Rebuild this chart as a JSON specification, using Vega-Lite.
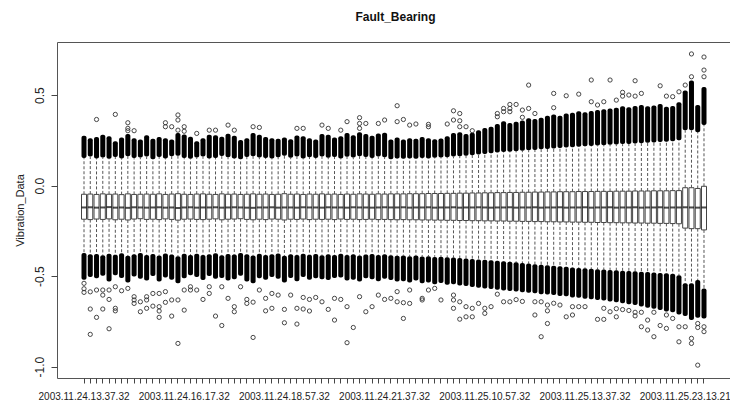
{
"$schema": "https://vega.github.io/schema/vega-lite/v6.json",
"width": 673, "height": 336,
"autosize": {"type": "none"},
"padding": {"left": 57, "top": 42, "right": 0, "bottom": 27},
"background": "white",
"config": {"view": {"stroke": "#555", "strokeWidth": 1}, "font": "Liberation Sans"},
"title": {"text": "Fault_Bearing", "fontSize": 12, "fontWeight": "bold", "font": "Liberation Sans", "color": "#111", "anchor": "middle", "baseline": "alphabetic", "offset": 9, "dx": 2},
"datasets": {
"boxes": [
{"i":1,"t":"2003.11.24.13.37.32","lw":-0.372,"q1":-0.186,"md":-0.121,"q3":-0.048,"uw":0.152,"dt":0.275,"db":-0.520},
{"i":2,"t":"2003.11.24.13.47.32","lw":-0.380,"q1":-0.188,"md":-0.120,"q3":-0.047,"uw":0.160,"dt":0.262,"db":-0.505},
{"i":3,"t":"2003.11.24.13.57.32","lw":-0.378,"q1":-0.185,"md":-0.122,"q3":-0.049,"uw":0.150,"dt":0.268,"db":-0.512},
{"i":4,"t":"2003.11.24.14.07.32","lw":-0.385,"q1":-0.187,"md":-0.121,"q3":-0.046,"uw":0.155,"dt":0.280,"db":-0.498},
{"i":5,"t":"2003.11.24.14.17.32","lw":-0.376,"q1":-0.184,"md":-0.119,"q3":-0.048,"uw":0.148,"dt":0.272,"db":-0.530},
{"i":6,"t":"2003.11.24.14.27.32","lw":-0.382,"q1":-0.189,"md":-0.122,"q3":-0.047,"uw":0.158,"dt":0.245,"db":-0.495},
{"i":7,"t":"2003.11.24.14.37.32","lw":-0.374,"q1":-0.186,"md":-0.121,"q3":-0.050,"uw":0.150,"dt":0.265,"db":-0.510},
{"i":8,"t":"2003.11.24.14.47.32","lw":-0.388,"q1":-0.190,"md":-0.123,"q3":-0.046,"uw":0.162,"dt":0.285,"db":-0.535},
{"i":9,"t":"2003.11.24.14.57.32","lw":-0.380,"q1":-0.185,"md":-0.120,"q3":-0.049,"uw":0.152,"dt":0.262,"db":-0.502},
{"i":10,"t":"2003.11.24.15.07.32","lw":-0.372,"q1":-0.183,"md":-0.121,"q3":-0.048,"uw":0.155,"dt":0.255,"db":-0.515},
{"i":11,"t":"2003.11.24.15.17.32","lw":-0.383,"q1":-0.187,"md":-0.122,"q3":-0.047,"uw":0.160,"dt":0.278,"db":-0.525},
{"i":12,"t":"2003.11.24.15.27.32","lw":-0.378,"q1":-0.186,"md":-0.121,"q3":-0.048,"uw":0.146,"dt":0.258,"db":-0.500},
{"i":13,"t":"2003.11.24.15.37.32","lw":-0.386,"q1":-0.188,"md":-0.120,"q3":-0.046,"uw":0.158,"dt":0.268,"db":-0.530},
{"i":14,"t":"2003.11.24.15.47.32","lw":-0.375,"q1":-0.184,"md":-0.122,"q3":-0.049,"uw":0.150,"dt":0.262,"db":-0.508},
{"i":15,"t":"2003.11.24.15.57.32","lw":-0.381,"q1":-0.187,"md":-0.121,"q3":-0.047,"uw":0.162,"dt":0.255,"db":-0.520},
{"i":16,"t":"2003.11.24.16.07.32","lw":-0.390,"q1":-0.191,"md":-0.124,"q3":-0.045,"uw":0.165,"dt":0.290,"db":-0.540},
{"i":17,"t":"2003.11.24.16.17.32","lw":-0.377,"q1":-0.186,"md":-0.121,"q3":-0.048,"uw":0.152,"dt":0.282,"db":-0.512},
{"i":18,"t":"2003.11.24.16.27.32","lw":-0.383,"q1":-0.185,"md":-0.120,"q3":-0.049,"uw":0.148,"dt":0.270,"db":-0.495},
{"i":19,"t":"2003.11.24.16.37.32","lw":-0.376,"q1":-0.187,"md":-0.122,"q3":-0.047,"uw":0.155,"dt":0.245,"db":-0.505},
{"i":20,"t":"2003.11.24.16.47.32","lw":-0.384,"q1":-0.188,"md":-0.121,"q3":-0.046,"uw":0.160,"dt":0.262,"db":-0.522},
{"i":21,"t":"2003.11.24.16.57.32","lw":-0.379,"q1":-0.186,"md":-0.121,"q3":-0.048,"uw":0.150,"dt":0.280,"db":-0.500},
{"i":22,"t":"2003.11.24.17.07.32","lw":-0.374,"q1":-0.184,"md":-0.120,"q3":-0.049,"uw":0.152,"dt":0.278,"db":-0.515},
{"i":23,"t":"2003.11.24.17.17.32","lw":-0.385,"q1":-0.189,"md":-0.122,"q3":-0.046,"uw":0.163,"dt":0.270,"db":-0.510},
{"i":24,"t":"2003.11.24.17.27.32","lw":-0.378,"q1":-0.186,"md":-0.121,"q3":-0.048,"uw":0.156,"dt":0.286,"db":-0.525},
{"i":25,"t":"2003.11.24.17.37.32","lw":-0.381,"q1":-0.185,"md":-0.120,"q3":-0.047,"uw":0.150,"dt":0.275,"db":-0.518},
{"i":26,"t":"2003.11.24.17.47.32","lw":-0.372,"q1":-0.183,"md":-0.121,"q3":-0.049,"uw":0.145,"dt":0.252,"db":-0.498},
{"i":27,"t":"2003.11.24.17.57.32","lw":-0.380,"q1":-0.187,"md":-0.122,"q3":-0.048,"uw":0.158,"dt":0.262,"db":-0.530},
{"i":28,"t":"2003.11.24.18.07.32","lw":-0.386,"q1":-0.189,"md":-0.123,"q3":-0.046,"uw":0.162,"dt":0.290,"db":-0.540},
{"i":29,"t":"2003.11.24.18.17.32","lw":-0.377,"q1":-0.186,"md":-0.121,"q3":-0.048,"uw":0.155,"dt":0.280,"db":-0.512},
{"i":30,"t":"2003.11.24.18.27.32","lw":-0.384,"q1":-0.188,"md":-0.121,"q3":-0.047,"uw":0.152,"dt":0.268,"db":-0.520},
{"i":31,"t":"2003.11.24.18.37.32","lw":-0.379,"q1":-0.185,"md":-0.120,"q3":-0.049,"uw":0.150,"dt":0.262,"db":-0.505},
{"i":32,"t":"2003.11.24.18.47.32","lw":-0.375,"q1":-0.186,"md":-0.122,"q3":-0.048,"uw":0.157,"dt":0.258,"db":-0.515},
{"i":33,"t":"2003.11.24.18.57.32","lw":-0.388,"q1":-0.190,"md":-0.121,"q3":-0.045,"uw":0.165,"dt":0.265,"db":-0.535},
{"i":34,"t":"2003.11.24.19.07.32","lw":-0.380,"q1":-0.186,"md":-0.121,"q3":-0.048,"uw":0.153,"dt":0.256,"db":-0.510},
{"i":35,"t":"2003.11.24.19.17.32","lw":-0.383,"q1":-0.187,"md":-0.122,"q3":-0.047,"uw":0.160,"dt":0.276,"db":-0.528},
{"i":36,"t":"2003.11.24.19.27.32","lw":-0.376,"q1":-0.185,"md":-0.120,"q3":-0.049,"uw":0.150,"dt":0.272,"db":-0.505},
{"i":37,"t":"2003.11.24.19.37.32","lw":-0.382,"q1":-0.188,"md":-0.121,"q3":-0.047,"uw":0.157,"dt":0.262,"db":-0.520},
{"i":38,"t":"2003.11.24.19.47.32","lw":-0.378,"q1":-0.186,"md":-0.121,"q3":-0.048,"uw":0.152,"dt":0.255,"db":-0.512},
{"i":39,"t":"2003.11.24.19.57.32","lw":-0.385,"q1":-0.187,"md":-0.122,"q3":-0.046,"uw":0.161,"dt":0.285,"db":-0.518},
{"i":40,"t":"2003.11.24.20.07.32","lw":-0.379,"q1":-0.186,"md":-0.120,"q3":-0.048,"uw":0.154,"dt":0.280,"db":-0.522},
{"i":41,"t":"2003.11.24.20.17.32","lw":-0.383,"q1":-0.188,"md":-0.121,"q3":-0.047,"uw":0.158,"dt":0.266,"db":-0.510},
{"i":42,"t":"2003.11.24.20.27.32","lw":-0.377,"q1":-0.185,"md":-0.121,"q3":-0.049,"uw":0.150,"dt":0.272,"db":-0.508},
{"i":43,"t":"2003.11.24.20.37.32","lw":-0.384,"q1":-0.187,"md":-0.122,"q3":-0.047,"uw":0.159,"dt":0.290,"db":-0.525},
{"i":44,"t":"2003.11.24.20.47.32","lw":-0.380,"q1":-0.186,"md":-0.120,"q3":-0.048,"uw":0.155,"dt":0.278,"db":-0.520},
{"i":45,"t":"2003.11.24.20.57.32","lw":-0.386,"q1":-0.188,"md":-0.121,"q3":-0.046,"uw":0.162,"dt":0.295,"db":-0.530},
{"i":46,"t":"2003.11.24.21.07.32","lw":-0.381,"q1":-0.187,"md":-0.121,"q3":-0.047,"uw":0.158,"dt":0.285,"db":-0.512},
{"i":47,"t":"2003.11.24.21.17.32","lw":-0.378,"q1":-0.186,"md":-0.122,"q3":-0.048,"uw":0.152,"dt":0.275,"db":-0.518},
{"i":48,"t":"2003.11.24.21.27.32","lw":-0.384,"q1":-0.188,"md":-0.121,"q3":-0.046,"uw":0.160,"dt":0.288,"db":-0.528},
{"i":49,"t":"2003.11.24.21.37.32","lw":-0.380,"q1":-0.187,"md":-0.120,"q3":-0.047,"uw":0.157,"dt":0.292,"db":-0.515},
{"i":50,"t":"2003.11.24.21.47.32","lw":-0.385,"q1":-0.188,"md":-0.121,"q3":-0.046,"uw":0.145,"dt":0.255,"db":-0.522},
{"i":51,"t":"2003.11.24.21.57.32","lw":-0.388,"q1":-0.189,"md":-0.121,"q3":-0.046,"uw":0.150,"dt":0.265,"db":-0.530},
{"i":52,"t":"2003.11.24.22.07.32","lw":-0.386,"q1":-0.188,"md":-0.120,"q3":-0.046,"uw":0.148,"dt":0.255,"db":-0.528},
{"i":53,"t":"2003.11.24.22.17.32","lw":-0.390,"q1":-0.189,"md":-0.122,"q3":-0.045,"uw":0.150,"dt":0.262,"db":-0.535},
{"i":54,"t":"2003.11.24.22.27.32","lw":-0.387,"q1":-0.189,"md":-0.121,"q3":-0.045,"uw":0.148,"dt":0.258,"db":-0.525},
{"i":55,"t":"2003.11.24.22.37.32","lw":-0.392,"q1":-0.190,"md":-0.121,"q3":-0.045,"uw":0.152,"dt":0.268,"db":-0.540},
{"i":56,"t":"2003.11.24.22.47.32","lw":-0.390,"q1":-0.190,"md":-0.120,"q3":-0.044,"uw":0.150,"dt":0.262,"db":-0.535},
{"i":57,"t":"2003.11.24.22.57.32","lw":-0.394,"q1":-0.191,"md":-0.122,"q3":-0.044,"uw":0.154,"dt":0.256,"db":-0.545},
{"i":58,"t":"2003.11.24.23.07.32","lw":-0.393,"q1":-0.191,"md":-0.121,"q3":-0.044,"uw":0.155,"dt":0.260,"db":-0.538},
{"i":59,"t":"2003.11.24.23.17.32","lw":-0.396,"q1":-0.192,"md":-0.121,"q3":-0.043,"uw":0.157,"dt":0.272,"db":-0.548},
{"i":60,"t":"2003.11.24.23.27.32","lw":-0.398,"q1":-0.192,"md":-0.120,"q3":-0.043,"uw":0.160,"dt":0.290,"db":-0.545},
{"i":61,"t":"2003.11.24.23.37.32","lw":-0.400,"q1":-0.193,"md":-0.122,"q3":-0.042,"uw":0.162,"dt":0.295,"db":-0.552},
{"i":62,"t":"2003.11.24.23.47.32","lw":-0.403,"q1":-0.193,"md":-0.121,"q3":-0.042,"uw":0.165,"dt":0.285,"db":-0.555},
{"i":63,"t":"2003.11.24.23.57.32","lw":-0.405,"q1":-0.194,"md":-0.121,"q3":-0.041,"uw":0.168,"dt":0.292,"db":-0.560},
{"i":64,"t":"2003.11.25.10.47.32","lw":-0.408,"q1":-0.194,"md":-0.120,"q3":-0.041,"uw":0.172,"dt":0.305,"db":-0.565},
{"i":65,"t":"2003.11.25.10.57.32","lw":-0.410,"q1":-0.195,"md":-0.121,"q3":-0.040,"uw":0.175,"dt":0.318,"db":-0.568},
{"i":66,"t":"2003.11.25.11.07.32","lw":-0.413,"q1":-0.195,"md":-0.122,"q3":-0.040,"uw":0.178,"dt":0.325,"db":-0.572},
{"i":67,"t":"2003.11.25.11.17.32","lw":-0.416,"q1":-0.196,"md":-0.121,"q3":-0.039,"uw":0.182,"dt":0.340,"db":-0.575},
{"i":68,"t":"2003.11.25.11.27.32","lw":-0.418,"q1":-0.196,"md":-0.121,"q3":-0.039,"uw":0.185,"dt":0.355,"db":-0.580},
{"i":69,"t":"2003.11.25.11.37.32","lw":-0.421,"q1":-0.197,"md":-0.120,"q3":-0.038,"uw":0.187,"dt":0.345,"db":-0.582},
{"i":70,"t":"2003.11.25.11.47.32","lw":-0.424,"q1":-0.197,"md":-0.122,"q3":-0.038,"uw":0.190,"dt":0.352,"db":-0.585},
{"i":71,"t":"2003.11.25.11.57.32","lw":-0.428,"q1":-0.198,"md":-0.121,"q3":-0.037,"uw":0.192,"dt":0.360,"db":-0.590},
{"i":72,"t":"2003.11.25.12.07.32","lw":-0.431,"q1":-0.198,"md":-0.121,"q3":-0.037,"uw":0.195,"dt":0.372,"db":-0.592},
{"i":73,"t":"2003.11.25.12.17.32","lw":-0.434,"q1":-0.199,"md":-0.120,"q3":-0.036,"uw":0.197,"dt":0.368,"db":-0.595},
{"i":74,"t":"2003.11.25.12.27.32","lw":-0.437,"q1":-0.199,"md":-0.122,"q3":-0.036,"uw":0.200,"dt":0.375,"db":-0.600},
{"i":75,"t":"2003.11.25.12.37.32","lw":-0.440,"q1":-0.200,"md":-0.121,"q3":-0.035,"uw":0.202,"dt":0.385,"db":-0.602},
{"i":76,"t":"2003.11.25.12.47.32","lw":-0.443,"q1":-0.200,"md":-0.121,"q3":-0.035,"uw":0.205,"dt":0.392,"db":-0.605},
{"i":77,"t":"2003.11.25.12.57.32","lw":-0.446,"q1":-0.201,"md":-0.120,"q3":-0.034,"uw":0.207,"dt":0.385,"db":-0.610},
{"i":78,"t":"2003.11.25.13.07.32","lw":-0.449,"q1":-0.201,"md":-0.122,"q3":-0.034,"uw":0.210,"dt":0.398,"db":-0.612},
{"i":79,"t":"2003.11.25.13.17.32","lw":-0.452,"q1":-0.202,"md":-0.121,"q3":-0.034,"uw":0.212,"dt":0.402,"db":-0.618},
{"i":80,"t":"2003.11.25.13.27.32","lw":-0.455,"q1":-0.202,"md":-0.121,"q3":-0.033,"uw":0.215,"dt":0.410,"db":-0.620},
{"i":81,"t":"2003.11.25.13.37.32","lw":-0.457,"q1":-0.203,"md":-0.120,"q3":-0.033,"uw":0.217,"dt":0.405,"db":-0.625},
{"i":82,"t":"2003.11.25.13.47.32","lw":-0.460,"q1":-0.203,"md":-0.122,"q3":-0.033,"uw":0.219,"dt":0.412,"db":-0.628},
{"i":83,"t":"2003.11.25.13.57.32","lw":-0.462,"q1":-0.204,"md":-0.121,"q3":-0.032,"uw":0.221,"dt":0.418,"db":-0.632},
{"i":84,"t":"2003.11.25.14.07.32","lw":-0.464,"q1":-0.204,"md":-0.121,"q3":-0.032,"uw":0.223,"dt":0.422,"db":-0.635},
{"i":85,"t":"2003.11.25.14.17.32","lw":-0.466,"q1":-0.205,"md":-0.120,"q3":-0.032,"uw":0.225,"dt":0.425,"db":-0.640},
{"i":86,"t":"2003.11.25.14.27.32","lw":-0.468,"q1":-0.205,"md":-0.122,"q3":-0.031,"uw":0.227,"dt":0.430,"db":-0.645},
{"i":87,"t":"2003.11.25.14.37.32","lw":-0.470,"q1":-0.206,"md":-0.121,"q3":-0.031,"uw":0.229,"dt":0.438,"db":-0.650},
{"i":88,"t":"2003.11.25.14.47.32","lw":-0.472,"q1":-0.206,"md":-0.121,"q3":-0.031,"uw":0.230,"dt":0.432,"db":-0.655},
{"i":89,"t":"2003.11.25.14.57.32","lw":-0.474,"q1":-0.207,"md":-0.120,"q3":-0.030,"uw":0.232,"dt":0.440,"db":-0.660},
{"i":90,"t":"2003.11.25.15.07.32","lw":-0.476,"q1":-0.207,"md":-0.122,"q3":-0.030,"uw":0.234,"dt":0.445,"db":-0.668},
{"i":91,"t":"2003.11.25.15.17.32","lw":-0.478,"q1":-0.208,"md":-0.121,"q3":-0.030,"uw":0.236,"dt":0.438,"db":-0.675},
{"i":92,"t":"2003.11.25.15.27.32","lw":-0.480,"q1":-0.208,"md":-0.121,"q3":-0.029,"uw":0.238,"dt":0.442,"db":-0.680},
{"i":93,"t":"2003.11.25.15.37.32","lw":-0.483,"q1":-0.209,"md":-0.120,"q3":-0.029,"uw":0.240,"dt":0.450,"db":-0.688},
{"i":94,"t":"2003.11.25.15.47.32","lw":-0.485,"q1":-0.209,"md":-0.122,"q3":-0.029,"uw":0.242,"dt":0.435,"db":-0.695},
{"i":95,"t":"2003.11.25.15.57.32","lw":-0.487,"q1":-0.210,"md":-0.121,"q3":-0.028,"uw":0.245,"dt":0.440,"db":-0.700},
{"i":96,"t":"2003.11.25.16.07.32","lw":-0.495,"q1":-0.211,"md":-0.121,"q3":-0.028,"uw":0.250,"dt":0.460,"db":-0.712},
{"i":97,"t":"2003.11.25.23.13.21","lw":-0.540,"q1":-0.235,"md":-0.120,"q3":-0.012,"uw":0.305,"dt":0.525,"db":-0.720},
{"i":98,"t":"2003.11.25.23.19.56","lw":-0.540,"q1":-0.238,"md":-0.121,"q3":-0.012,"uw":0.305,"dt":0.580,"db":-0.742},
{"i":99,"t":"2003.11.25.23.29.56","lw":-0.522,"q1":-0.238,"md":-0.122,"q3":-0.016,"uw":0.295,"dt":0.445,"db":-0.730},
{"i":100,"t":"2003.11.25.23.39.56","lw":-0.568,"q1":-0.245,"md":-0.121,"q3":-0.004,"uw":0.335,"dt":0.545,"db":-0.735}
],
"outliers": [
{"i":3,"v":0.365},{"i":6,"v":0.393},{"i":8,"v":0.347},{"i":8,"v":0.316},{"i":8,"v":0.303},{"i":9,"v":0.303},
{"i":14,"v":0.347},{"i":14,"v":0.325},{"i":15,"v":0.325},{"i":16,"v":0.39},{"i":16,"v":0.362},{"i":16,"v":0.306},
{"i":17,"v":0.325},{"i":17,"v":0.3},{"i":19,"v":0.288},{"i":21,"v":0.306},{"i":22,"v":0.306},{"i":24,"v":0.334},
{"i":25,"v":0.306},{"i":28,"v":0.325},{"i":29,"v":0.321},{"i":35,"v":0.316},{"i":36,"v":0.316},{"i":39,"v":0.334},
{"i":40,"v":0.316},{"i":42,"v":0.306},{"i":43,"v":0.353},{"i":45,"v":0.375},{"i":45,"v":0.343},{"i":45,"v":0.316},
{"i":46,"v":0.343},{"i":48,"v":0.343},{"i":49,"v":0.362},{"i":51,"v":0.441},{"i":51,"v":0.353},{"i":52,"v":0.365},
{"i":53,"v":0.334},{"i":54,"v":0.34},{"i":56,"v":0.338},{"i":56,"v":0.325},{"i":59,"v":0.34},{"i":60,"v":0.413},
{"i":60,"v":0.362},{"i":61,"v":0.398},{"i":61,"v":0.358},{"i":61,"v":0.325},{"i":62,"v":0.325},{"i":63,"v":0.303},
{"i":67,"v":0.398},{"i":67,"v":0.38},{"i":68,"v":0.426},{"i":68,"v":0.408},{"i":69,"v":0.448},{"i":69,"v":0.426},
{"i":69,"v":0.408},{"i":70,"v":0.448},{"i":71,"v":0.417},{"i":71,"v":0.377},{"i":72,"v":0.555},{"i":72,"v":0.426},
{"i":73,"v":0.398},{"i":76,"v":0.509},{"i":76,"v":0.43},{"i":78,"v":0.496},{"i":80,"v":0.505},{"i":82,"v":0.583},
{"i":82,"v":0.463},{"i":83,"v":0.445},{"i":84,"v":0.463},{"i":85,"v":0.583},{"i":86,"v":0.472},{"i":87,"v":0.515},
{"i":87,"v":0.494},{"i":88,"v":0.5},{"i":89,"v":0.579},{"i":89,"v":0.494},{"i":90,"v":0.509},{"i":93,"v":0.551},
{"i":94,"v":0.494},{"i":95,"v":0.491},{"i":96,"v":0.518},{"i":97,"v":0.555},{"i":98,"v":0.727},{"i":98,"v":0.601},
{"i":100,"v":0.71},{"i":100,"v":0.638},{"i":100,"v":0.601},
{"i":1,"v":-0.54},{"i":1,"v":-0.57},{"i":1,"v":-0.59},{"i":2,"v":-0.587},{"i":2,"v":-0.682},{"i":2,"v":-0.822},
{"i":3,"v":-0.577},{"i":3,"v":-0.728},{"i":4,"v":-0.577},{"i":4,"v":-0.605},{"i":4,"v":-0.682},{"i":5,"v":-0.577},
{"i":5,"v":-0.629},{"i":5,"v":-0.791},{"i":6,"v":-0.559},{"i":6,"v":-0.678},{"i":6,"v":-0.692},{"i":7,"v":-0.581},
{"i":8,"v":-0.568},{"i":9,"v":-0.614},{"i":9,"v":-0.632},{"i":9,"v":-0.651},{"i":10,"v":-0.642},{"i":10,"v":-0.697},
{"i":11,"v":-0.614},{"i":11,"v":-0.632},{"i":11,"v":-0.678},{"i":12,"v":-0.596},{"i":12,"v":-0.666},{"i":13,"v":-0.596},
{"i":13,"v":-0.669},{"i":13,"v":-0.693},{"i":13,"v":-0.728},{"i":14,"v":-0.586},{"i":14,"v":-0.645},{"i":15,"v":-0.632},
{"i":15,"v":-0.721},{"i":16,"v":-0.632},{"i":16,"v":-0.872},{"i":17,"v":-0.577},{"i":17,"v":-0.688},{"i":18,"v":-0.559},
{"i":18,"v":-0.577},{"i":19,"v":-0.577},{"i":20,"v":-0.629},{"i":21,"v":-0.559},{"i":21,"v":-0.596},{"i":22,"v":-0.721},
{"i":23,"v":-0.559},{"i":23,"v":-0.773},{"i":24,"v":-0.623},{"i":25,"v":-0.669},{"i":25,"v":-0.697},{"i":26,"v":-0.559},
{"i":27,"v":-0.629},{"i":27,"v":-0.651},{"i":28,"v":-0.644},{"i":28,"v":-0.839},{"i":29,"v":-0.577},{"i":30,"v":-0.623},
{"i":30,"v":-0.692},{"i":31,"v":-0.596},{"i":31,"v":-0.678},{"i":32,"v":-0.605},{"i":33,"v":-0.684},{"i":33,"v":-0.758},
{"i":34,"v":-0.605},{"i":35,"v":-0.678},{"i":35,"v":-0.765},{"i":36,"v":-0.618},{"i":36,"v":-0.682},{"i":37,"v":-0.629},
{"i":37,"v":-0.693},{"i":38,"v":-0.618},{"i":39,"v":-0.642},{"i":40,"v":-0.684},{"i":41,"v":-0.623},{"i":41,"v":-0.743},
{"i":42,"v":-0.629},{"i":43,"v":-0.669},{"i":43,"v":-0.868},{"i":44,"v":-0.784},{"i":45,"v":-0.614},{"i":46,"v":-0.697},
{"i":47,"v":-0.669},{"i":48,"v":-0.605},{"i":49,"v":-0.629},{"i":50,"v":-0.623},{"i":51,"v":-0.586},{"i":51,"v":-0.642},
{"i":52,"v":-0.647},{"i":52,"v":-0.734},{"i":53,"v":-0.577},{"i":53,"v":-0.651},{"i":55,"v":-0.623},{"i":55,"v":-0.632},
{"i":56,"v":-0.577},{"i":57,"v":-0.568},{"i":58,"v":-0.632},{"i":60,"v":-0.605},{"i":60,"v":-0.632},{"i":60,"v":-0.678},
{"i":61,"v":-0.642},{"i":61,"v":-0.738},{"i":62,"v":-0.669},{"i":62,"v":-0.725},{"i":63,"v":-0.678},{"i":63,"v":-0.725},
{"i":64,"v":-0.651},{"i":65,"v":-0.678},{"i":65,"v":-0.706},{"i":66,"v":-0.669},{"i":67,"v":-0.6},{"i":68,"v":-0.642},
{"i":69,"v":-0.642},{"i":70,"v":-0.63},{"i":71,"v":-0.64},{"i":73,"v":-0.642},{"i":73,"v":-0.715},{"i":74,"v":-0.642},
{"i":74,"v":-0.835},{"i":75,"v":-0.66},{"i":75,"v":-0.692},{"i":75,"v":-0.762},{"i":76,"v":-0.65},{"i":77,"v":-0.66},
{"i":78,"v":-0.725},{"i":79,"v":-0.669},{"i":79,"v":-0.715},{"i":80,"v":-0.669},{"i":81,"v":-0.669},{"i":83,"v":-0.739},
{"i":84,"v":-0.678},{"i":84,"v":-0.739},{"i":85,"v":-0.697},{"i":86,"v":-0.725},{"i":86,"v":-0.68},{"i":87,"v":-0.685},
{"i":88,"v":-0.69},{"i":89,"v":-0.7},{"i":89,"v":-0.72},{"i":90,"v":-0.7},{"i":90,"v":-0.78},{"i":91,"v":-0.798},
{"i":91,"v":-0.743},{"i":92,"v":-0.835},{"i":92,"v":-0.7},{"i":93,"v":-0.773},{"i":94,"v":-0.715},{"i":94,"v":-0.789},
{"i":95,"v":-0.734},{"i":96,"v":-0.863},{"i":96,"v":-0.78},{"i":97,"v":-0.78},{"i":98,"v":-0.844},{"i":98,"v":-0.872},
{"i":99,"v":-0.992},{"i":99,"v":-0.762},{"i":99,"v":-0.784},{"i":100,"v":-0.78},{"i":100,"v":-0.807}
]
},
"encoding": {
"x": {"field": "t", "type": "ordinal",
 "scale": {"type": "band", "range": [24.5, 649.5], "paddingInner": 0.2, "paddingOuter": 0},
 "axis": {"title": null, "labelAngle": 0, "labelFontSize": 10, "labelFont": "Liberation Sans", "labelColor": "#222",
  "labelOverlap": "parity", "labelPadding": 8, "tickSize": 5, "tickColor": "#444", "domain": false,
  "bandPosition": 0.5, "labelBaseline": "top", "labelAlign": "center", "labelBound": false, "labelFlush": false, "grid": false}}
},
"layer": [
{"data": {"name": "boxes"},
 "mark": {"type": "rule", "strokeDash": [3, 2], "color": "#555", "strokeWidth": 1},
 "encoding": {
  "y": {"field": "q3", "type": "quantitative", "title": "Vibration_Data",
   "scale": {"domain": [-1.063, 0.793], "nice": false, "zero": false},
   "axis": {"title": "Vibration_Data", "values": [-1, -0.5, 0, 0.5],
    "labelExpr": "datum.value < 0 ? '-' + format(-datum.value, '.1f') : format(datum.value, '.1f')",
    "labelAngle": 270, "labelAlign": "center", "labelBaseline": "bottom", "labelFontSize": 12, "labelFont": "Liberation Sans",
    "labelColor": "#222", "labelPadding": 5, "tickSize": 6, "tickColor": "#444", "domain": false, "grid": false,
    "titleFontSize": 11, "titleFontWeight": "normal", "titleFont": "Liberation Sans", "titleColor": "#222",
    "titleX": -37, "titleY": 168, "titleAngle": 270, "titleAlign": "center", "titleBaseline": "middle"}},
  "y2": {"field": "uw"}}},
{"data": {"name": "boxes"},
 "mark": {"type": "rule", "strokeDash": [3, 2], "color": "#555", "strokeWidth": 1},
 "encoding": {"y": {"field": "q1", "type": "quantitative", "title": "Vibration_Data"}, "y2": {"field": "lw"}}},
{"data": {"name": "boxes"},
 "mark": {"type": "bar", "color": "#000", "cornerRadius": 2},
 "encoding": {"y": {"field": "uw", "type": "quantitative", "title": "Vibration_Data"}, "y2": {"field": "dt"}}},
{"data": {"name": "boxes"},
 "mark": {"type": "bar", "color": "#000", "cornerRadius": 2},
 "encoding": {"y": {"field": "db", "type": "quantitative", "title": "Vibration_Data"}, "y2": {"field": "lw"}}},
{"data": {"name": "boxes"},
 "mark": {"type": "bar", "fill": "#fff", "stroke": "#444", "strokeWidth": 1},
 "encoding": {"y": {"field": "q1", "type": "quantitative", "title": "Vibration_Data"}, "y2": {"field": "q3"}}},
{"data": {"name": "boxes"},
 "mark": {"type": "tick", "color": "#000", "thickness": 2, "size": 5},
 "encoding": {"y": {"field": "md", "type": "quantitative", "title": "Vibration_Data"}}},
{"data": {"name": "outliers"},
 "transform": [{"lookup": "i", "from": {"data": {"name": "boxes"}, "key": "i", "fields": ["t"]}}],
 "mark": {"type": "point", "shape": "circle", "filled": false, "size": 18, "stroke": "#333", "strokeWidth": 0.9, "opacity": 1},
 "encoding": {"y": {"field": "v", "type": "quantitative", "title": "Vibration_Data"}}}
]
}
